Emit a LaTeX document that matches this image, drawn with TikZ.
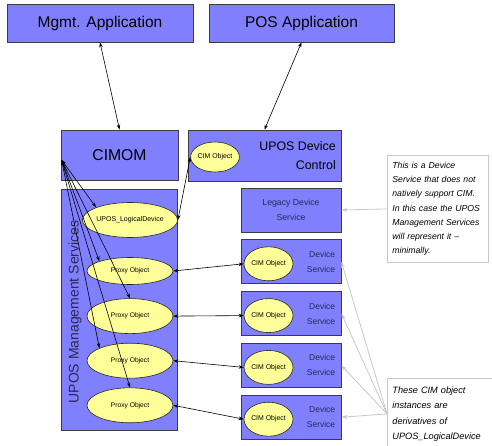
\documentclass[tikz,border=0pt]{standalone}
\usepackage{fontspec}
\setmainfont{Liberation Sans}
\usetikzlibrary{shapes.geometric,arrows.meta,positioning}
\definecolor{UposBlue}{RGB}{128,128,255}
\definecolor{ObjYellow}{RGB}{255,255,153}
\definecolor{EdgeGray}{RGB}{60,60,70}
\definecolor{NoteGray}{RGB}{200,200,200}
\definecolor{DimText}{RGB}{40,40,85}
\tikzset{
  bbox/.style={draw=EdgeGray,fill=UposBlue,line width=0.8pt,inner sep=0pt},
  obj/.style={ellipse,draw=black!85,fill=ObjYellow,line width=0.6pt,inner sep=0pt},
  lbl/.style={inner sep=0pt,text=DimText},
  note/.style={draw=NoteGray,fill=white,line width=0.8pt,anchor=north west,
               align=left,inner xsep=5pt,
               font=\fontsize{8.7}{14.2}\selectfont\itshape},
  arr/.style={{Stealth[length=5pt,width=3.5pt]}-{Stealth[length=5pt,width=3.5pt]},
              black,line width=0.6pt},
  arrn/.style={-{Stealth[length=6pt,width=4pt]},NoteGray,line width=0.8pt},
}

\begin{document}
\begin{tikzpicture}[x=1pt,y=-1pt]
  \useasboundingbox (0,0) rectangle (492,446);
  \clip (0,0) rectangle (492,446);
  % applications
  \node[bbox,minimum width=186pt,minimum height=38pt,
        font=\fontsize{15.5}{18}\selectfont] (mgmt) at (100,23) {Mgmt. Application};
  \node[bbox,minimum width=185pt,minimum height=38pt,
        font=\fontsize{15.5}{18}\selectfont] (pos) at (301.5,23) {POS Application};
  % cimom and device control
  \node[bbox,minimum width=117pt,minimum height=50pt,
        font=\fontsize{15.7}{18}\selectfont] (cimom) at (119.5,155) {CIMOM};
  \node[bbox,minimum width=153pt,minimum height=51pt] (udc) at (264.5,155.5) {};
  \node[obj,minimum width=46pt,minimum height=30pt,
        font=\fontsize{6.9}{8}\selectfont] (cimu) at (215,157) {CIM Object};
  \node[inner sep=0pt,anchor=east,align=right,
        font=\fontsize{12.4}{19}\selectfont] (udctext) at (336,155.5) {UPOS Device\\Control};
  % management services
  \node[bbox,minimum width=116pt,minimum height=241pt] (ums) at (119,309.5) {};
  \node[lbl,rotate=90,font=\fontsize{14}{16}\selectfont] (umstext) at (75,312)
        {UPOS Management Services};
  \node[obj,minimum width=86pt,minimum height=35pt,
        font=\fontsize{7}{8}\selectfont] (ld) at (130,220) {UPOS\_LogicalDevice};
  \node[obj,minimum width=86pt,minimum height=27pt,
        font=\fontsize{6.7}{8}\selectfont] (p1) at (130,271) {Proxy Object};
  \node[obj,minimum width=86pt,minimum height=35pt,below=13.5pt of p1,
        font=\fontsize{6.7}{8}\selectfont] (p2) {Proxy Object};
  \node[obj,minimum width=86pt,minimum height=35pt,below=9pt of p2,
        font=\fontsize{6.7}{8}\selectfont] (p3) {Proxy Object};
  \node[obj,minimum width=86pt,minimum height=35pt,below=9pt of p3,
        font=\fontsize{6.7}{8}\selectfont] (p4) {Proxy Object};
  \coordinate (hub) at ([shift={(1,5)}]cimom.west);
  % device services
  \node[bbox,minimum width=100pt,minimum height=44pt,text=DimText,align=center,
        font=\fontsize{8.7}{15}\selectfont] (legacy) at (291,210) {Legacy Device\\Service};
  \node[bbox,minimum width=100pt,minimum height=44pt,below=7pt of legacy] (ds1) {};
  \node[bbox,minimum width=100pt,minimum height=44pt,below=7pt of ds1] (ds2) {};
  \node[bbox,minimum width=100pt,minimum height=44pt,below=7pt of ds2] (ds3) {};
  \node[bbox,minimum width=100pt,minimum height=44pt,below=7pt of ds3] (ds4) {};
  \foreach \i in {1,...,4}{
    \node[obj,minimum width=49pt,minimum height=34pt,font=\fontsize{6.9}{8}\selectfont]
      (cim\i) at ([shift={(-22.5,2)}]ds\i.center) {CIM Object};
    \node[lbl,anchor=east,align=right,font=\fontsize{8.5}{15}\selectfont]
      (dst\i) at ([shift={(-6,0)}]ds\i.east) {Device\\Service};
  }
  % notes
  \node[note,text width=91pt,minimum height=107pt] (note1) at (387,155)
    {This is a Device\\Service that does not\\natively support CIM.\\In this case the UPOS\\Management Services\\will represent it --\\minimally.};
  \node[note,text width=96pt,inner ysep=8pt,
        font=\fontsize{9.2}{15.5}\selectfont\itshape] (note2) at (387,378)
    {These CIM object\\instances are\\derivatives of\\UPOS\_LogicalDevice};
  % connectors
  \draw[arr] (mgmt.south) -- (cimom.north);
  \draw[arr] (pos.south) -- (udc.north);
  \draw[arr] (cimu.west) -- (ld.east);
  \foreach \t in {ld.north west,p1.north west,p2.north,p3.north west,p4.north}
    \draw[arr] (hub) -- (\t);
  \foreach \i in {1,...,4}{
    \draw[arr] (p\i.east) -- (cim\i.west);
    \draw[arrn] (note2.west) -- (ds\i.east);
  }
  \draw[arrn] (note1.west) -- (legacy.east);
\end{tikzpicture}
\end{document}
